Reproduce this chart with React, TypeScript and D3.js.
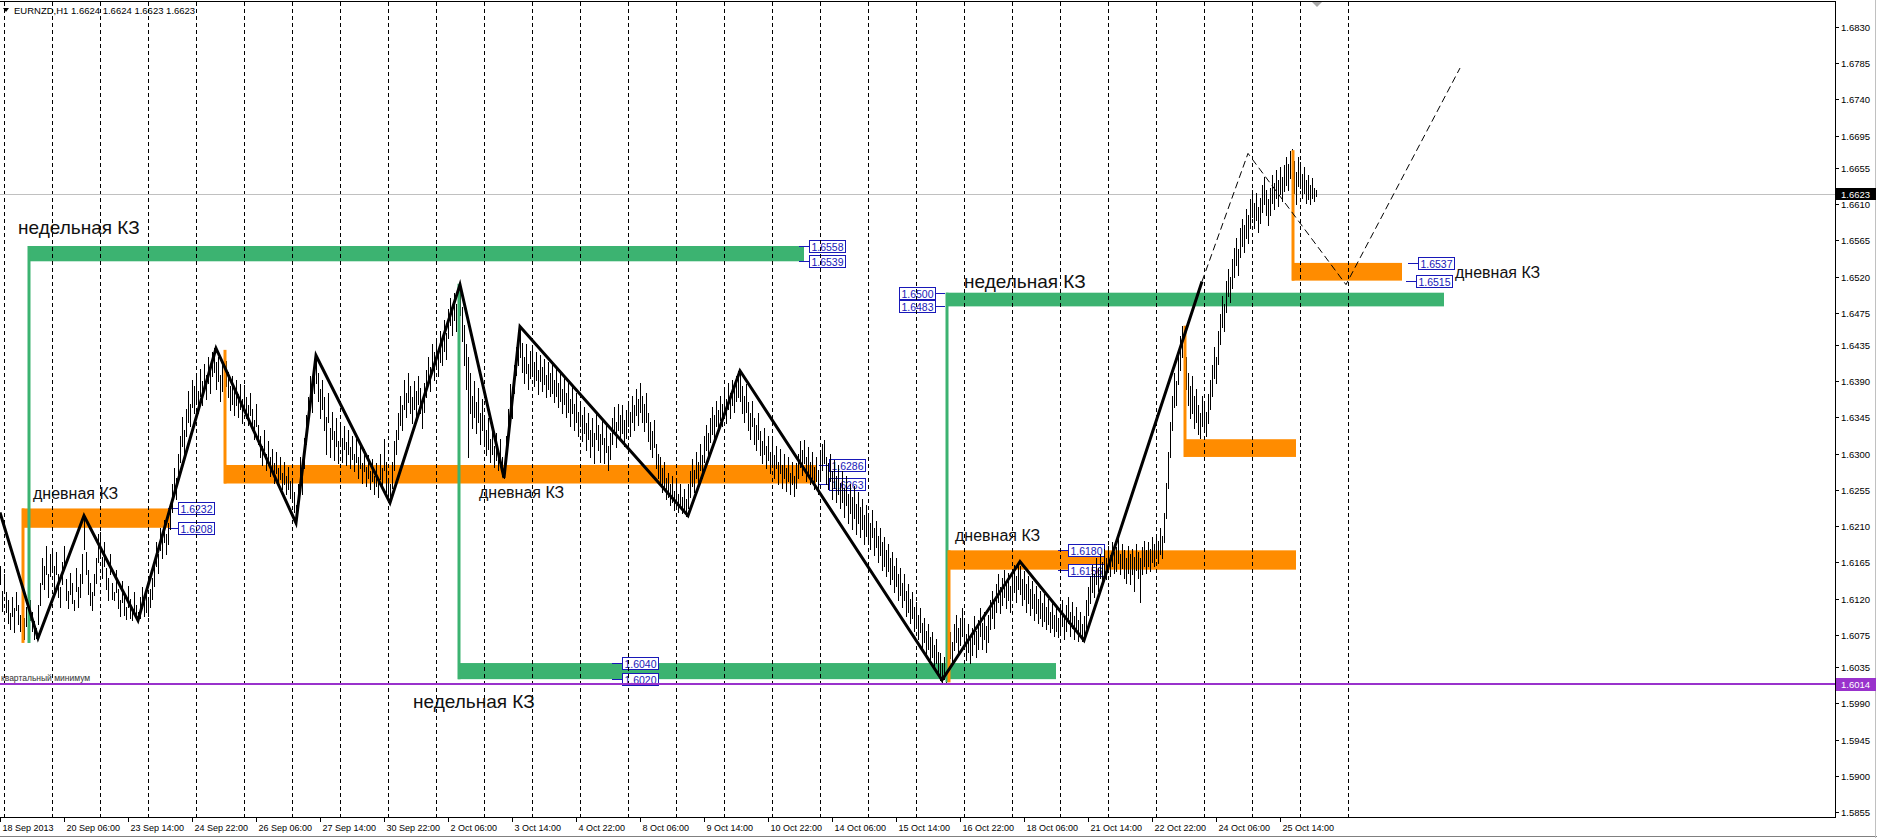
import * as d3 from 'd3'

// EURNZD H1 chart with weekly / daily zones (MT4 style)

const W = 1877
const H = 838
const PLOT_TOP = 1
const PLOT_RIGHT = 1835
const PLOT_BOTTOM = 817

const title = 'EURNZD,H1  1.6624 1.6624 1.6623 1.6623'
const BID = 1.6623
const QUARTER_LOW = 1.6014

const priceTicks = [
  1.683, 1.6785, 1.674, 1.6695, 1.6655, 1.661, 1.6565, 1.652, 1.6475, 1.6435, 1.639, 1.6345,
  1.63, 1.6255, 1.621, 1.6165, 1.612, 1.6075, 1.6035, 1.599, 1.5945, 1.59, 1.5855,
]

// bar index 0 = 19 Sep 00:00, one bar per hour
const timeLabels: [number, string][] = [
  [-2, '18 Sep 2013'], [30, '20 Sep 06:00'], [62, '23 Sep 14:00'], [94, '24 Sep 22:00'],
  [126, '26 Sep 06:00'], [158, '27 Sep 14:00'], [190, '30 Sep 22:00'], [222, '2 Oct 06:00'],
  [254, '3 Oct 14:00'], [286, '4 Oct 22:00'], [318, '8 Oct 06:00'], [350, '9 Oct 14:00'],
  [382, '10 Oct 22:00'], [414, '14 Oct 06:00'], [446, '15 Oct 14:00'], [478, '16 Oct 22:00'],
  [510, '18 Oct 06:00'], [542, '21 Oct 14:00'], [574, '22 Oct 22:00'], [606, '24 Oct 06:00'],
  [638, '25 Oct 14:00'],
]

// daily separators (bar index of each 00:00)
const dayStarts = [
  0, 24, 48, 72, 96, 120, 144, 168, 192, 216, 240, 264, 288, 312, 336, 360, 384, 408, 432,
  456, 480, 504, 528, 552, 576, 600, 624, 648, 672,
]

// hourly bars "high:low", price = 1.6 + n/10000; first row starts at bar -2
const barRows = [
  '160:138 130:105',
  // 19 Sep
  '150:128 128:104 118:90 102:82 122:98 108:78 128:106 112:88 100:80 116:92 96:70 110:86 88:66 118:94 104:80 92:70 84:71 112:88 140:112 170:138 160:132 185:150 150:122 176:148',
  // 20 Sep
  '182:156 160:130 178:150 150:122 135:110 165:138 186:160 144:118 130:108 152:126 140:114 118:106 158:130 134:110 150:122 176:140 223:182 178:150 156:126 140:112 128:106 150:124 170:140 200:165',
  // 23 Sep
  '203:170 172:146 190:160 158:132 146:118 176:150 140:120 128:118 155:128 132:108 118:98 142:116 124:100 110:95 136:110 120:96 108:94 128:104 112:95 104:93 122:96 134:108 116:98 128:104',
  // 24 Sep
  '118:99 132:110 146:120 164:136 190:160 176:152 208:180 196:170 218:190 200:176 214:188 236:206 262:228 282:250 270:244 300:266 322:290 346:310 330:300 356:322 378:340 362:334 392:358 384:350',
  // 25 Sep
  '400:366 378:350 405:372 390:360 412:380 398:368 420:388 410:376 426:396 431:402 414:380 420:390 398:366 410:378 388:356 415:384 402:370 384:354 396:362 378:348 392:360 374:346 386:356 368:338',
  // 26 Sep
  '385:356 370:344 360:336 376:348 356:330 342:318 362:334 336:312 322:296 310:286 330:304 300:280 316:290 296:272 306:280 288:264 302:276 282:260 296:268 276:256 290:262 272:250 284:256 266:245',
  // 27 Sep
  '270:240 252:228 236:214 262:230 296:256 280:250 320:282 348:312 370:336 396:358 382:352 410:376 422:388 400:366 380:344 392:356 370:330 346:300 376:340 332:296 352:318 328:292 344:310 316:288',
  // 30 Sep
  '340:312 320:290 334:306 314:286 330:300 308:282 322:294 300:278 318:290 296:270 310:282 288:264 306:278 284:260 298:270 278:256 294:266 272:250 288:260 268:246 300:268 282:256 318:280 290:252',
  // 1 Oct
  '270:243 262:239 290:258 316:280 330:300 350:318 372:336 360:330 392:356 376:346 400:364 384:350 370:338 390:356 378:340 396:362 382:350 364:332 388:352 404:370 420:386 408:378 436:400 426:392',
  // 2 Oct
  '441:406 428:396 452:414 440:410 466:428 450:418 480:444 494:460 478:448 500:466 486:452 505:470 510:472 482:440 460:410 436:380 420:296 400:350 372:332 390:346 364:326 382:340 350:312 368:330',
  // 3 Oct
  '348:310 330:298 344:306 318:290 336:300 310:284 326:292 302:280 318:286 296:272 286:270 322:288 356:318 386:348 372:344 410:376 432:398 446:410 458:420 438:402 420:388 436:400 412:380 428:394',
  // 4 Oct
  '432:398 414:384 426:392 404:374 422:390 408:378 418:386 398:370 414:380 400:372 410:376 392:364 406:372 388:358 400:366 380:350 396:362 376:346 388:352 368:334 384:350 362:330 376:340 352:322',
  // 7 Oct
  '366:334 348:316 358:326 338:304 350:318 330:296 344:310 326:288 352:318 336:304 324:290 344:312 320:288 336:302 310:280 326:294 344:312 358:326 340:308 362:330 348:318 360:326 342:310 354:320',
  // 8 Oct
  '366:334 352:322 372:340 360:330 380:348 368:336 388:352 372:340 362:328 376:340 350:316 340:306 328:296 342:308 312:282 300:270 296:262 282:252 290:258 270:244 276:246 262:236 272:240 254:230',
  // 9 Oct
  '266:236 250:228 262:232 246:226 256:228 244:223 262:232 278:246 294:260 280:252 302:270 290:262 312:280 298:270 322:290 336:304 326:298 344:314 358:324 348:320 366:334 354:326 372:342 362:334',
  // 10 Oct
  '380:348 368:338 388:356 376:344 392:360 380:352 396:366 403:370 400:366 384:350 372:340 386:352 364:330 350:318 366:334 344:312 336:304 350:318 328:298 316:288 332:300 310:282 322:292 302:276',
  // 11 Oct
  '318:288 298:270 310:282 290:262 306:276 286:258 300:270 282:254 296:266 276:250 290:262 272:248 288:258 300:270 316:284 304:274 317:288 296:266 308:276 290:262 302:270 284:256 296:266 280:250',
  // 14 Oct
  '300:268 312:280 317:288 296:262 288:256 300:266 278:244 292:258 272:240 286:250 264:232 278:240 258:222 272:236 250:214 262:226 246:206 260:220 238:200 252:214 234:196 244:206 224:188 236:198',
  // 15 Oct
  '226:190 214:182 230:196 208:174 216:184 198:166 208:174 190:156 196:160 180:148 188:154 170:138 178:144 160:128 170:136 150:118 158:124 140:110 150:118 130:98 138:104 120:90 128:96 110:80',
  // 16 Oct
  '116:84 100:70 108:78 90:60 96:66 80:50 88:58 72:42 78:48 62:34 70:40 54:26 52:19 40:16 48:20 36:16 62:30 78:46 66:38 88:56 100:66 84:52 96:62 108:74',
  // 17 Oct
  '92:60 76:44 88:54 70:40 84:50 98:64 80:48 94:58 108:74 90:58 104:70 86:54 100:66 118:82 130:96 116:84 138:104 150:116 134:102 146:112 156:122 140:108 152:118 136:104',
  // 18 Oct
  '150:118 162:128 148:116 166:132 160:126 144:112 154:120 138:104 148:114 132:100 142:108 126:94 136:102 120:90 130:96 114:86 126:92 110:82 120:88 104:78 116:84 100:74 110:80 96:72',
  // 21 Oct
  '108:78 118:86 96:70 112:80 122:90 104:74 116:84 98:70 110:78 94:68 104:72 88:68 98:68 118:84 134:100 148:114 162:128 150:122 170:138 158:130 176:146 166:138 182:150 170:144',
  // 22 Oct
  '186:156 174:148 190:160 178:152 184:154 194:164 176:150 188:158 180:146 170:140 186:152 176:138 182:150 172:130 188:156 178:146 170:116 184:150 192:160 180:152 190:160 182:154 196:166 188:160',
  // 23 Oct
  '200:170 192:164 208:176 198:170 226:190 264:220 302:258 340:296 372:330 400:358 390:360 426:386 446:404 459:420 440:400 420:380 400:360 384:344 396:350 372:332 380:340 360:324 350:320 372:334',
  // 24 Oct
  '366:330 352:322 374:338 392:356 410:372 432:394 420:388 452:412 474:436 496:458 486:452 514:476 530:496 520:488 542:506 556:520 568:534 554:522 580:544 592:558 584:550 604:568 596:562 616:580',
  // 25 Oct
  '628:594 612:580 624:590 606:576 618:586 634:600 644:610 628:596 616:584 630:596 646:612 636:604 652:618 640:608 656:622 644:614 658:626 668:634 660:628 676:642 678:640 664:624 650:610 668:632',
  // 28 Oct
  '662:630 648:618 656:624 640:612 646:616 634:610 642:618 630:614 628:620',
]

// zigzag vertices [bar, price]
const zigzag: [number, number][] = [
  [-2, 1.6227], [17, 1.6071], [40, 1.6223], [67, 1.6093], [106, 1.6431], [146, 1.6214],
  [156, 1.6422], [193, 1.6239], [228, 1.651], [250, 1.627], [258, 1.6458], [342, 1.6223],
  [368, 1.6403], [469, 1.6019], [508, 1.6166], [540, 1.6068], [599, 1.6514],
]
const forecast: [number, number][] = [[599, 1.6514], [622, 1.6673], [671, 1.651], [728, 1.6779]]

// zones: kind, start bar, end bar, top, bottom, price where the stem starts
const zoneKind = ['week', 'day', 'day', 'week', 'week', 'day', 'day', 'day']
const zoneFrom = [12, 9, 110, 227, 471, 472, 590, 644]
const zoneTo = [400, 83, 406, 526, 720, 646, 646, 699]
const zoneTop = [1.6558, 1.6232, 1.6286, 1.604, 1.65, 1.618, 1.6318, 1.6537]
const zoneBottom = [1.6539, 1.6208, 1.6263, 1.602, 1.6483, 1.6156, 1.6296, 1.6515]
const zoneStem = [1.6065, 1.6065, 1.6429, 1.6511, 1.6016, 1.6016, 1.6459, 1.6677]

// price tags: price, bar of box left edge, which side the leader is on
const tagPrice = [1.6558, 1.6539, 1.6232, 1.6208, 1.6286, 1.6263, 1.604, 1.602, 1.65, 1.6483, 1.618, 1.6156, 1.6537, 1.6515]
const tagBar = [402.5, 402.5, 87, 87, 412.5, 412.5, 309, 309, 447.5, 447.5, 532, 532, 707, 706]
const tagLeaderRight = [false, false, false, false, false, false, false, false, true, true, false, false, false, false]

// text notes: bar, price (baseline), text, size
const notes: [number, number, string, number][] = [
  [7, 1.6573, 'недельная КЗ', 19],
  [204.5, 1.5984, 'недельная КЗ', 19],
  [480, 1.6506, 'недельная КЗ', 19],
  [14.5, 1.6244, 'дневная КЗ', 16],
  [237.5, 1.6245, 'дневная КЗ', 16],
  [475.5, 1.6192, 'дневная КЗ', 16],
  [725.5, 1.6518, 'дневная КЗ', 16],
]

const GREEN = '#3cb371'
const ORANGE = '#ff8c00'
const PURPLE = '#9932cc'
const TAG_BLUE = '#1818b8'
const AXIS_FONT = '"Liberation Sans", Arial, sans-serif'

export default function App() {
  const x = d3.scaleLinear().domain([0, 672]).range([4, 1348])
  const y = d3.scaleLinear().domain([1.5855, 1.683]).range([812, 27])

  const bars: { b: number; hi: number; lo: number }[] = []
  let b = -2
  barRows.forEach((row) => {
    row.split(' ').forEach((tok) => {
      const [h, l] = tok.split(':').map((v) => 1.6 + +v / 10000)
      bars.push({ b, hi: h, lo: l })
      b += 1
    })
  })

  const line = d3
    .line<[number, number]>()
    .x((d) => x(d[0]))
    .y((d) => y(d[1]))

  return (
    <div style={{ width: W, height: H }}>
      <style>{'body{margin:0;background:#fff}'}</style>
      <svg width={W} height={H} style={{ display: 'block', background: '#fff' }}>
        <defs>
          <clipPath id="plot">
            <rect x={0} y={PLOT_TOP} width={PLOT_RIGHT} height={PLOT_BOTTOM - PLOT_TOP} />
          </clipPath>
        </defs>

        <g clipPath="url(#plot)">
          {/* zone rectangles (background) */}
          {zoneFrom.map((f, i) => (
            <rect
              key={'z' + i}
              x={x(f)}
              y={y(zoneTop[i])}
              width={x(zoneTo[i]) - x(f)}
              height={y(zoneBottom[i]) - y(zoneTop[i])}
              fill={zoneKind[i] === 'week' ? GREEN : ORANGE}
            />
          ))}

          {/* price tags */}
          {tagPrice.map((p, i) => {
            const bx = x(tagBar[i])
            const cy = Math.round(y(p)) + 0.5
            const lx1 = tagLeaderRight[i] ? bx + 36 : bx - 10
            return (
              <g key={'t' + i}>
                <line x1={lx1} x2={lx1 + 10} y1={cy} y2={cy} stroke={TAG_BLUE} strokeWidth={1} />
                <rect x={bx + 0.5} y={cy - 6} width={36} height={12} fill="#fff" stroke={TAG_BLUE} strokeWidth={1} />
                <text
                  x={bx + 18.5}
                  y={cy + 4}
                  textAnchor="middle"
                  fontFamily={AXIS_FONT}
                  fontSize={10.5}
                  fill={TAG_BLUE}
                >
                  {p.toFixed(4)}
                </text>
              </g>
            )
          })}

          {/* daily separators */}
          {dayStarts.map((d) => (
            <line
              key={'s' + d}
              x1={Math.round(x(d)) + 0.5}
              x2={Math.round(x(d)) + 0.5}
              y1={PLOT_TOP + 1}
              y2={PLOT_BOTTOM}
              stroke="#000"
              strokeWidth={1}
              strokeDasharray="4,3"
            />
          ))}

          {/* bid line */}
          <line x1={0} x2={PLOT_RIGHT} y1={Math.round(y(BID)) + 0.5} y2={Math.round(y(BID)) + 0.5} stroke="#c0c0c0" />

          {/* hourly bars */}
          {bars.map((d) => (
            <line
              key={'b' + d.b}
              x1={x(d.b) + 0.5}
              x2={x(d.b) + 0.5}
              y1={Math.round(y(d.hi))}
              y2={Math.round(y(d.lo)) + 1}
              stroke="#000"
              strokeWidth={1}
              shapeRendering="crispEdges"
            />
          ))}

          {/* zone stems */}
          {zoneFrom.map((f, i) => {
            const far = zoneStem[i] < zoneBottom[i] ? zoneTop[i] : zoneBottom[i]
            return (
              <line
                key={'st' + i}
                x1={x(f) + 1}
                x2={x(f) + 1}
                y1={y(zoneStem[i])}
                y2={y(far)}
                stroke={zoneKind[i] === 'week' ? GREEN : ORANGE}
                strokeWidth={3}
              />
            )
          })}

          {/* quarterly low */}
          <line x1={0} x2={PLOT_RIGHT} y1={y(QUARTER_LOW)} y2={y(QUARTER_LOW)} stroke={PURPLE} strokeWidth={2} />
          <text x={1} y={y(QUARTER_LOW) - 3} fontFamily={AXIS_FONT} fontSize={8.5} fill="#333">
            квартальный минимум
          </text>

          {/* zigzag */}
          <path d={line(zigzag) ?? ''} fill="none" stroke="#000" strokeWidth={3} strokeLinejoin="miter" />
          <path d={line(forecast) ?? ''} fill="none" stroke="#000" strokeWidth={1} strokeDasharray="7,4" />

          {/* notes */}
          {notes.map(([nb, np, t, s], i) => (
            <text key={'n' + i} x={x(nb)} y={y(np)} fontFamily={AXIS_FONT} fontSize={s} fill="#111">
              {t}
            </text>
          ))}
        </g>

        {/* title */}
        <path d="M3,8 L9,8 L6,12 Z" fill="#000" />
        <text x={14} y={14} fontFamily={AXIS_FONT} fontSize={9.5} fill="#000">
          {title}
        </text>

        {/* chart shift marker */}
        <path d="M1312,2 L1322,2 L1317,7 Z" fill="#a8a8a8" />

        {/* frame */}
        <line x1={0} x2={PLOT_RIGHT} y1={PLOT_TOP + 0.5} y2={PLOT_TOP + 0.5} stroke="#000" />
        <line x1={PLOT_RIGHT + 0.5} x2={PLOT_RIGHT + 0.5} y1={PLOT_TOP} y2={PLOT_BOTTOM + 1} stroke="#000" />
        <line x1={0} x2={PLOT_RIGHT + 1} y1={PLOT_BOTTOM + 0.5} y2={PLOT_BOTTOM + 0.5} stroke="#000" />
        <line x1={0} x2={W} y1={H - 1.5} y2={H - 1.5} stroke="#808080" />
        <line x1={W - 1.5} x2={W - 1.5} y1={0} y2={H} stroke="#c0c0c0" />

        {/* price axis */}
        {priceTicks.map((p) => {
          const py = Math.round(y(p)) + 0.5
          return (
            <g key={'p' + p}>
              <line x1={PLOT_RIGHT} x2={PLOT_RIGHT + 4} y1={py} y2={py} stroke="#000" />
              <text x={PLOT_RIGHT + 6} y={py + 3.5} fontFamily={AXIS_FONT} fontSize={9.5} fill="#000">
                {p.toFixed(4)}
              </text>
            </g>
          )
        })}
        <rect x={PLOT_RIGHT + 1} y={Math.round(y(BID)) - 6} width={W - PLOT_RIGHT - 2} height={12} fill="#000" />
        <text x={PLOT_RIGHT + 6} y={Math.round(y(BID)) + 4} fontFamily={AXIS_FONT} fontSize={9.5} fill="#fff">
          {BID.toFixed(4)}
        </text>
        <rect x={PLOT_RIGHT + 1} y={Math.round(y(QUARTER_LOW)) - 6} width={W - PLOT_RIGHT - 2} height={13} fill={PURPLE} />
        <text x={PLOT_RIGHT + 6} y={Math.round(y(QUARTER_LOW)) + 4} fontFamily={AXIS_FONT} fontSize={9.5} fill="#fff">
          {QUARTER_LOW.toFixed(4)}
        </text>

        {/* time axis */}
        {timeLabels.map(([tb, t]) => {
          const tx = Math.max(0, Math.round(x(tb))) + 0.5
          return (
            <g key={'tl' + tb}>
              <line x1={tx} x2={tx} y1={PLOT_BOTTOM} y2={PLOT_BOTTOM + 5} stroke="#000" />
              <text x={tx + 2} y={PLOT_BOTTOM + 14} fontFamily={AXIS_FONT} fontSize={9} fill="#000">
                {t}
              </text>
            </g>
          )
        })}
      </svg>
    </div>
  )
}
